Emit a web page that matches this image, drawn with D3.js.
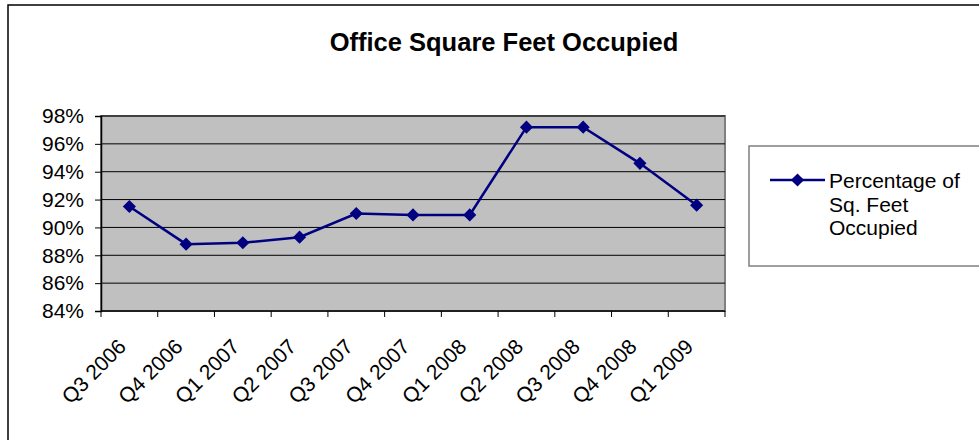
<!DOCTYPE html>
<html>
<head>
<meta charset="utf-8">
<script src="https://cdn.jsdelivr.net/npm/d3@7"></script>
<style>
  body { margin: 0; background: #fff; }
  svg text { font-family: Arial, "Liberation Sans", sans-serif; fill: #000; }
</style>
</head>
<body>
<svg id="chart"></svg>
<script>
// quarters on the x axis
const quarters = ['Q3 2006', 'Q4 2006', 'Q1 2007', 'Q2 2007', 'Q3 2007', 'Q4 2007',
                  'Q1 2008', 'Q2 2008', 'Q3 2008', 'Q4 2008', 'Q1 2009'];
// percentage of sq. feet occupied
const occupied = [91.5, 88.8, 88.9, 89.3, 91.0, 90.9, 90.9, 97.2, 97.2, 94.6, 91.6];
const yTicks = [84, 86, 88, 90, 92, 94, 96, 98];
const seriesName = ['Percentage of', 'Sq. Feet', 'Occupied'];

const config = {
  width: 979,
  height: 440,
  plot: { left: 101, top: 116, right: 725, bottom: 311 },
  navy: '#000080',
  labelSize: 21
};

const svg = d3.select('#chart')
  .attr('width', config.width)
  .attr('height', config.height);

// outer chart frame
svg.append('rect')
  .attr('x', 8).attr('y', 5)
  .attr('width', 990).attr('height', 460)
  .attr('fill', 'none')
  .attr('stroke', '#000')
  .attr('stroke-width', 1.5);

svg.append('text')
  .attr('x', 504)
  .attr('y', 51)
  .attr('text-anchor', 'middle')
  .attr('font-size', 25.5)
  .attr('font-weight', 'bold')
  .text('Office Square Feet Occupied');

const p = config.plot;
const xScale = d3.scaleBand()
  .domain(quarters)
  .range([p.left, p.right]);

const yScale = d3.scaleLinear()
  .domain([84, 98])
  .range([p.bottom, p.top]);

// plot area
svg.append('rect')
  .attr('x', p.left).attr('y', p.top)
  .attr('width', p.right - p.left).attr('height', p.bottom - p.top)
  .attr('fill', '#c0c0c0')
  .attr('stroke', '#808080')
  .attr('stroke-width', 2);

// gridlines
svg.append('g')
  .selectAll('line')
  .data(yTicks.slice(1))
  .join('line')
  .attr('x1', p.left).attr('x2', p.right)
  .attr('y1', d => yScale(d)).attr('y2', d => yScale(d))
  .attr('stroke', '#000')
  .attr('stroke-width', 1);

// y axis
const yAxis = d3.axisLeft(yScale)
  .tickValues(yTicks)
  .tickSize(6)
  .tickPadding(11)
  .tickFormat(d => d + '%');

svg.append('g')
  .attr('transform', `translate(${p.left},0)`)
  .call(yAxis)
  .call(g => g.select('.domain').attr('stroke', '#000').attr('stroke-width', 1.5))
  .call(g => g.selectAll('text').attr('font-size', config.labelSize).attr('font-family', 'Arial, "Liberation Sans", sans-serif'));

// x axis: ticks between categories
const xAxisG = svg.append('g');
xAxisG.append('line')
  .attr('x1', p.left).attr('x2', p.right)
  .attr('y1', p.bottom).attr('y2', p.bottom)
  .attr('stroke', '#000')
  .attr('stroke-width', 1.5);

const boundaries = quarters.map(q => xScale(q)).concat([p.right]);
xAxisG.selectAll('.tick')
  .data(boundaries)
  .join('line')
  .attr('class', 'tick')
  .attr('x1', d => d).attr('x2', d => d)
  .attr('y1', p.bottom).attr('y2', p.bottom + 6)
  .attr('stroke', '#000');

xAxisG.selectAll('.xlabel')
  .data(quarters)
  .join('text')
  .attr('class', 'xlabel')
  .attr('font-size', config.labelSize)
  .attr('text-anchor', 'end')
  .attr('transform', d => `translate(${xScale(d) + xScale.bandwidth() / 2 - 2},${p.bottom + 37}) rotate(-45)`)
  .text(d => d);

// series line
const cx = (d, i) => xScale(quarters[i]) + xScale.bandwidth() / 2;
const line = d3.line()
  .x(cx)
  .y(d => yScale(d));

svg.append('path')
  .datum(occupied)
  .attr('d', line)
  .attr('fill', 'none')
  .attr('stroke', config.navy)
  .attr('stroke-width', 2.5);

const diamond = d3.symbol().type(d3.symbolDiamond2).size(110);
svg.append('g')
  .selectAll('path')
  .data(occupied)
  .join('path')
  .attr('d', diamond)
  .attr('transform', (d, i) => `translate(${cx(d, i)},${yScale(d)})`)
  .attr('fill', config.navy);

// legend
const legend = svg.append('g');
legend.append('rect')
  .attr('x', 749).attr('y', 146)
  .attr('width', 260).attr('height', 120)
  .attr('fill', '#fff')
  .attr('stroke', '#7f7f7f')
  .attr('stroke-width', 1.5);

legend.append('line')
  .attr('x1', 770).attr('x2', 825)
  .attr('y1', 180).attr('y2', 180)
  .attr('stroke', config.navy)
  .attr('stroke-width', 2.5);

legend.append('path')
  .attr('d', diamond)
  .attr('transform', 'translate(797.5,180)')
  .attr('fill', config.navy);

legend.selectAll('.legend-text')
  .data(seriesName)
  .join('text')
  .attr('class', 'legend-text')
  .attr('x', 829)
  .attr('y', (d, i) => 188 + i * 23.5)
  .attr('font-size', config.labelSize)
  .text(d => d);
</script>
</body>
</html>
